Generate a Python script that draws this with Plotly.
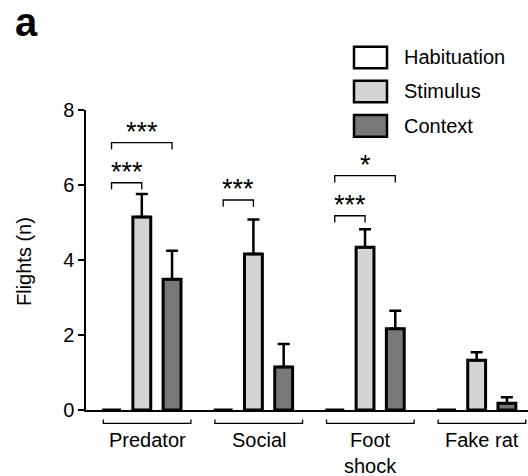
import plotly.graph_objects as go

# ---- data ----
groups = ["Predator", "Social", "Foot<br>shock", "Fake rat"]
series = ["Habituation", "Stimulus", "Context"]
habituation = [0, 0, 0, 0]
habituation_err = [0, 0, 0, 0]
stimulus = [5.15, 4.16, 4.34, 1.33]
stimulus_err = [0.61, 0.92, 0.48, 0.21]
context = [3.49, 1.15, 2.17, 0.18]
context_err = [0.76, 0.61, 0.48, 0.16]
# significance: (group index, series a, series b, bracket value, label)
sig = [
    (0, 0, 1, 6.06, "***"),
    (0, 0, 2, 7.13, "***"),
    (1, 0, 1, 5.60, "***"),
    (2, 0, 1, 5.18, "***"),
    (2, 0, 2, 6.25, "*"),
]
y_ticks = [0, 2, 4, 6, 8]

# ---- layout geometry ----
W, H = 528, 476
ML, MR, MT, MB = 86, 0, 110, 66
PW, PH = W - ML - MR, H - MT - MB
offsets = [-0.271, 0.0, 0.271]
bar_w = 0.16
fills = ["#ffffff", "#d4d4d4", "#787878"]
FONT = "Liberation Sans, Arial, sans-serif"


def px_x(p):
    return (p - ML) / PW


def px_y(p):
    return (H - MB - p) / PH


fig = go.Figure()
vals = [habituation, stimulus, context]
errs = [habituation_err, stimulus_err, context_err]
xs = list(range(len(groups)))
for k in (1, 2):
    fig.add_trace(go.Bar(
        x=[i + offsets[k] for i in xs], y=vals[k], width=bar_w,
        marker=dict(color=fills[k], line=dict(color="black", width=3)),
        error_y=dict(type="data", symmetric=False, array=errs[k],
                     arrayminus=[0] * len(xs), color="black",
                     thickness=2.5, width=6),
        showlegend=False, name=series[k]))

# habituation bars (zero-height) drawn as thick lines at their value
hx, hy = [], []
for i in xs:
    c = i + offsets[0]
    hx += [c - 0.085, c + 0.085, None]
    hy += [habituation[i], habituation[i], None]
fig.add_trace(go.Scatter(x=hx, y=hy, mode="lines",
                         line=dict(color="black", width=3),
                         showlegend=False, cliponaxis=False))

shapes = []
annotations = []
tick_h = 0.18
for g, a, b, yv, lab in sig:
    x0 = g + offsets[a]
    x1 = g + offsets[b]
    shapes.append(dict(type="path", xref="x", yref="y",
                       path=f"M {x0},{yv - tick_h} L {x0},{yv} L {x1},{yv} L {x1},{yv - tick_h}",
                       line=dict(color="black", width=1.3)))
    annotations.append(dict(x=(x0 + x1) / 2, y=yv, xref="x", yref="y",
                            text=lab, showarrow=False, yanchor="bottom", yshift=-6,
                            font=dict(size=27, color="black", family=FONT)))

# group brackets and labels below the axis
for i, g in enumerate(groups):
    bx0, bx1 = i - 0.345, i + 0.44
    y_h = px_y(423.3)
    y_t = px_y(419.5)
    shapes.append(dict(type="path", xref="x", yref="paper",
                       path=f"M {bx0},{y_t} L {bx0},{y_h} L {bx1},{y_h} L {bx1},{y_t}",
                       line=dict(color="black", width=1.3)))
    annotations.append(dict(x=i + 0.05, y=px_y(427), xref="x", yref="paper",
                            text=g, showarrow=False, yanchor="top",
                            font=dict(size=20, color="black", family=FONT)))

# legend
leg_rows = [(46.7, 68.3), (80.7, 102.3), (115, 136.7)]
for k, (t, b) in enumerate(leg_rows):
    shapes.append(dict(type="rect", xref="paper", yref="paper",
                       x0=px_x(354), x1=px_x(387), y0=px_y(b), y1=px_y(t),
                       fillcolor=fills[k], line=dict(color="black", width=2.5)))
    annotations.append(dict(x=px_x(402), y=px_y((t + b) / 2), xref="paper", yref="paper",
                            text=series[k], showarrow=False, xanchor="left", yanchor="middle",
                            font=dict(size=20, color="black", family=FONT)))

# y title and panel letter
annotations.append(dict(x=px_x(24), y=px_y(262), xref="paper", yref="paper",
                        text="Flights (n)", textangle=-90, showarrow=False,
                        xanchor="center", yanchor="middle",
                        font=dict(size=20, color="black", family=FONT)))
annotations.append(dict(x=px_x(13), y=px_y(22), xref="paper", yref="paper",
                        text="<b>a</b>", showarrow=False, xanchor="left", yanchor="middle",
                        font=dict(size=40, color="black", family=FONT)))

fig.update_layout(
    width=W, height=H, margin=dict(l=ML, r=MR, t=MT, b=MB),
    paper_bgcolor="white", plot_bgcolor="white",
    barmode="overlay", showlegend=False,
    shapes=shapes, annotations=annotations,
    font=dict(family=FONT, size=20, color="black"),
    xaxis=dict(range=[-0.5, 3.46], showgrid=False, zeroline=False,
               showline=True, linecolor="black", linewidth=1.5,
               showticklabels=False, ticks=""),
    yaxis=dict(range=[0, 8], tickvals=y_ticks, showgrid=False, zeroline=False,
               showline=True, linecolor="black", linewidth=1.5,
               ticks="outside", ticklen=6, tickwidth=1.5, tickcolor="black",
               tickfont=dict(size=20, family=FONT, color="black")),
)

fig.write_html("out.html")
